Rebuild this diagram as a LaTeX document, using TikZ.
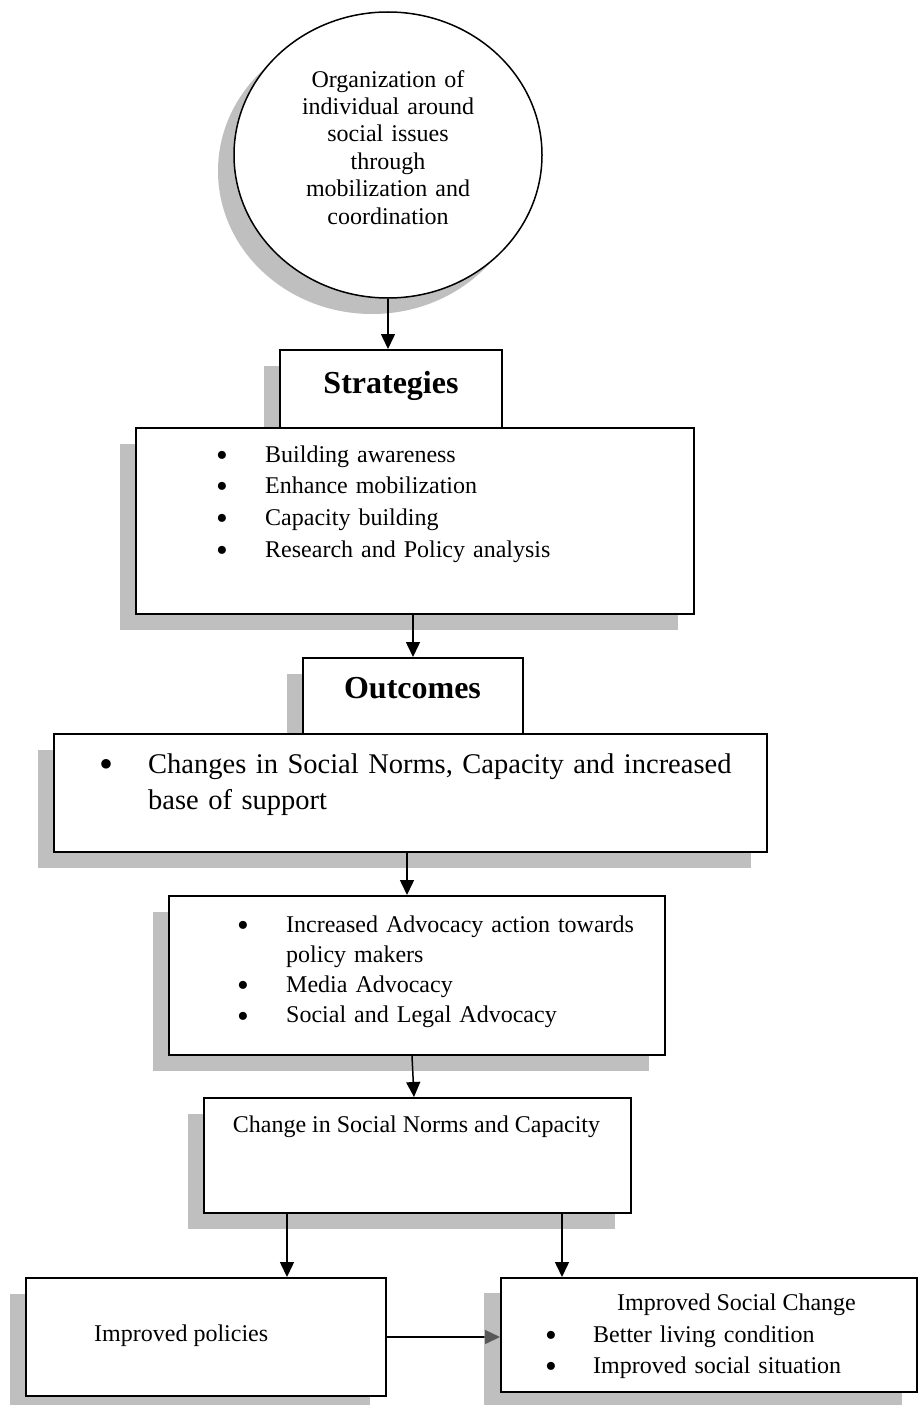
\documentclass[tikz,border=0pt]{standalone}
\usepackage{fontspec}
\usepackage{graphicx}
\setmainfont{Liberation Serif}
\usetikzlibrary{shapes.geometric,shadows,arrows.meta}
\definecolor{shadowgray}{RGB}{191,191,191}
\definecolor{shadowdeep}{RGB}{148,148,148}
\pgfdeclarelayer{background}
\pgfsetlayers{background,main}
\newlength{\bulgap}
% enlarged bullet, lowered so that it stays centred on the x-height
\newcommand{\bigbullet}{\raisebox{-0.175em}{\scalebox{1.4}{\textbullet}}}
\newcommand{\bul}[1]{\makebox[\bulgap][l]{\bigbullet}#1}
\newcommand{\ind}[1]{\hspace*{\bulgap}#1}

\begin{document}
\begin{tikzpicture}[x=1pt,y=-1pt,
  boxed/.style={draw,line width=2pt,fill=white,inner sep=0pt},
  shadowed/.style={drop shadow={shadow xshift=-16pt,shadow yshift=-16pt,fill=shadowgray,opacity=1}},
  arr/.style={line width=1.5pt,-{Triangle[width=14pt,length=15pt]}},
  txt/.style={inner sep=0pt,font=\fontsize{24}{30.4}\selectfont},
  head/.style={inner sep=0pt,font=\bfseries\fontsize{32}{38}\selectfont},
]
\useasboundingbox (0,0) rectangle (920,1405);

% top ellipse
\node[ellipse,draw,line width=1.5pt,fill=white,minimum width=308pt,minimum height=286pt,inner sep=0pt,shadowed] (circ) at (388,155) {};
\node[txt,anchor=base,text width=300pt,align=center,font=\fontsize{24}{27.4}\selectfont] (circtxt) at (388,87)
  {Organization of\\individual around\\social issues\\through\\mobilization and\\coordination};

% strategies
\node[boxed,shadowed,minimum width=222pt,minimum height=78pt] (sh) at (391,389) {};
\node[boxed,shadowed,minimum width=558pt,minimum height=186pt] (sb) at (415,521) {};
\node[head,anchor=base] (shtxt) at (391,393) {Strategies};
\node[txt,anchor=base west,text width=420pt,align=left,font=\fontsize{24}{31.7}\selectfont] (sbtxt) at (216,462)
  {\setlength\bulgap{49pt}\bul{Building awareness}\\\bul{Enhance mobilization}\\\bul{Capacity building}\\\bul{Research and Policy analysis}};

% outcomes
\node[boxed,shadowed,minimum width=220pt,minimum height=76pt] (oh) at (413,696) {};
\node[boxed,shadowed,minimum width=713pt,minimum height=118pt] (ob) at (410.5,793) {};
\node[head,anchor=base] (ohtxt) at (412.5,698) {Outcomes};
\node[txt,anchor=base west,text width=680pt,align=left,font=\fontsize{28.5}{36}\selectfont] (obtxt) at (99,773)
  {\setlength\bulgap{49pt}\bul{Changes in Social Norms, Capacity and increased}\\\ind{base of support}};

% advocacy
\node[boxed,shadowed,minimum width=496pt,minimum height=159pt] (adv) at (417,975.5) {};
\node[txt,anchor=base west,text width=420pt,align=left,font=\fontsize{24}{30.3}\selectfont] (advtxt) at (237,932)
  {\setlength\bulgap{49pt}\bul{Increased Advocacy action towards}\\\ind{policy makers}\\\bul{Media Advocacy}\\\bul{Social and Legal Advocacy}};

% change in norms
\node[boxed,shadowed,minimum width=427pt,minimum height=115pt] (chg) at (417.5,1155.5) {};
\node[txt,anchor=base] (chgtxt) at (416.5,1132) {Change in Social Norms and Capacity};

% improved policies
\node[boxed,shadowed,minimum width=360pt,minimum height=118pt] (pol) at (206,1337) {};
\node[txt,anchor=base west] (poltxt) at (94,1341) {Improved policies};

% improved social change
\node[boxed,minimum width=416pt,minimum height=114pt] (soc) at (709,1335) {};
\node[txt,anchor=base] (soctitle) at (736.5,1310) {Improved Social Change};
\node[txt,anchor=base west,text width=360pt,align=left,font=\fontsize{24}{31}\selectfont] (soclist) at (545,1342)
  {\setlength\bulgap{48pt}\bul{Better living condition}\\\bul{Improved social situation}};

% connectors
\draw[arr] (circ.south) -- (circ.south |- sh.north);
\draw[arr] (oh.north |- sb.south) -- (oh.north);
\draw[arr] ([xshift=-3.5pt]ob.south) -- ([xshift=-3.5pt]ob.south |- adv.north);
\draw[arr] ([xshift=-5pt]adv.south) -- ([xshift=-3.5pt]chg.north);
\draw[arr] ([xshift=-130.5pt]chg.south) -- ([xshift=-130.5pt]chg.south |- pol.north);
\draw[arr] ([xshift=144.5pt]chg.south) -- ([xshift=144.5pt]chg.south |- soc.north);

% the last arrow runs beneath the translucent shadow of the right box
\begin{pgfonlayer}{background}
\draw[arr] (pol.east) -- (pol.east -| soc.west);
\fill[shadowdeep,fill opacity=0.6] ([xshift=-16pt,yshift=-16pt]soc.north west) rectangle ([xshift=-16pt,yshift=-16pt]soc.south east);
\end{pgfonlayer}
\end{tikzpicture}
\end{document}
